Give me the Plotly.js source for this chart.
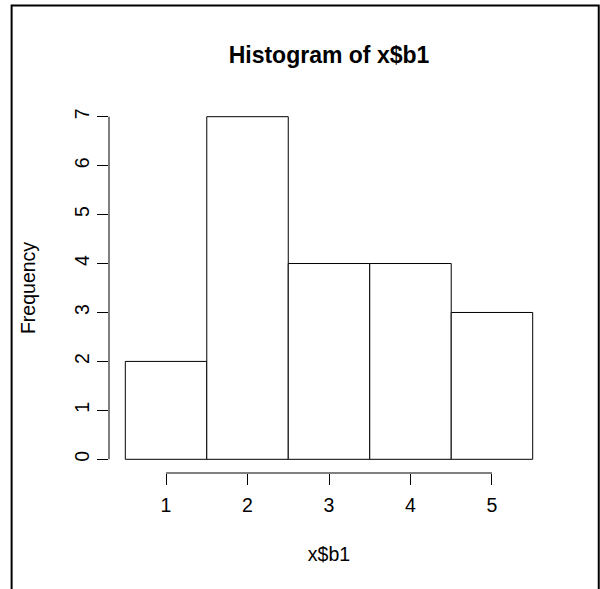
<!DOCTYPE html>
<html>
<head>
<meta charset="utf-8">
<script src="https://cdn.plot.ly/plotly-3.0.1.min.js"></script>
<style>
  html, body { margin: 0; padding: 0; background: #ffffff; }
  #chart { width: 600px; height: 589px; }
</style>
</head>
<body>
<div id="chart"></div>
<script>
// Data
const binCenters = [1, 2, 3, 4, 5];
const frequencies = [2, 7, 4, 4, 3];
const xTickVals = [1, 2, 3, 4, 5];
const yTickVals = [0, 1, 2, 3, 4, 5, 6, 7];
const chartTitle = 'Histogram of x$b1';
const xLabel = 'x$b1';
const yLabel = 'Frequency';

const W = 600, H = 589;
const m = { l: 109, r: 51.4, t: 103.3, b: 116.3 };
const pw = W - m.l - m.r, ph = H - m.t - m.b;
const px = v => (v - m.l) / pw;          // pixel x -> paper x
const py = v => (H - m.b - v) / ph;      // pixel y -> paper y

const font = 'Liberation Sans, Arial, Helvetica, sans-serif';
const fs = 19.5;

const trace = {
  type: 'bar',
  x: binCenters,
  y: frequencies,
  width: 1,
  marker: { color: '#ffffff', line: { color: '#000000', width: 1 } },
  hoverinfo: 'x+y'
};

const layout = {
  width: W, height: H,
  margin: m,
  paper_bgcolor: '#ffffff',
  plot_bgcolor: '#ffffff',
  showlegend: false,
  font: { family: font, color: '#000000', size: fs },
  title: {
    text: '<b>' + chartTitle + '</b>',
    font: { family: font, size: 23, color: '#000000' },
    xref: 'paper', x: 0.5, xanchor: 'center',
    yref: 'container', y: 1 - 55 / H, yanchor: 'middle'
  },
  xaxis: {
    range: [0.3, 5.7],
    tickvals: xTickVals,
    ticktext: xTickVals.map(String),
    ticks: 'outside', ticklen: 11, tickwidth: 1, tickcolor: '#000000',
    ticklabelstandoff: 4,
    showline: false, showgrid: false, zeroline: false,
    tickfont: { family: font, size: fs, color: '#000000' },
    title: { text: xLabel, font: { family: font, size: fs, color: '#000000' }, standoff: 31 },
    fixedrange: true
  },
  yaxis: {
    range: [-0.28, 7.28],
    tickvals: yTickVals,
    ticktext: yTickVals.map(String),
    tickangle: -90,
    ticks: 'outside', ticklen: 11, tickwidth: 1, tickcolor: '#000000',
    ticklabelstandoff: 0,
    showline: false, showgrid: false, zeroline: false,
    tickfont: { family: font, size: fs, color: '#000000' },
    title: { text: yLabel, font: { family: font, size: fs, color: '#000000' }, standoff: 30 },
    fixedrange: true
  },
  shapes: [
    // R-style x axis line from first to last tick
    { type: 'line', xref: 'x', yref: 'paper', x0: xTickVals[0], x1: xTickVals[xTickVals.length - 1], y0: 0, y1: 0,
      line: { color: '#000000', width: 1 } },
    // R-style y axis line from first to last tick
    { type: 'line', xref: 'paper', yref: 'y', x0: 0, x1: 0, y0: yTickVals[0], y1: yTickVals[yTickVals.length - 1],
      line: { color: '#000000', width: 1 } },
    // outer frame
    { type: 'rect', xref: 'paper', yref: 'paper', x0: px(11.7), x1: px(598.3), y0: py(640), y1: py(6),
      line: { color: '#000000', width: 2 }, fillcolor: 'rgba(0,0,0,0)', layer: 'above' }
  ]
};

Plotly.newPlot('chart', [trace], layout, { displayModeBar: false, staticPlot: true });
</script>
</body>
</html>
